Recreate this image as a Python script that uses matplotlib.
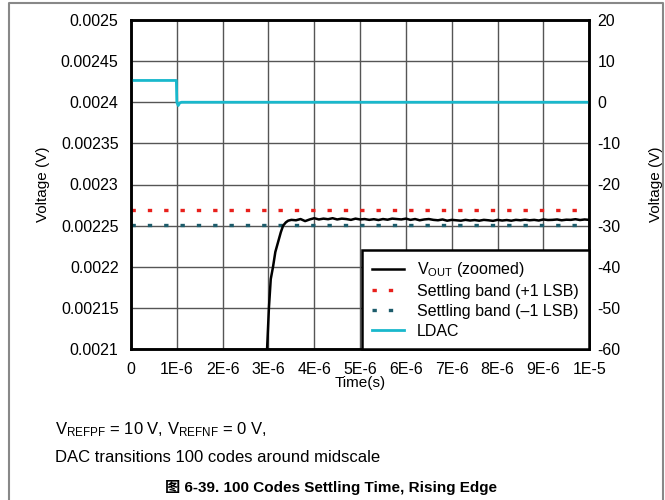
import numpy as np
import matplotlib
matplotlib.use('Agg')
import matplotlib.pyplot as plt
from matplotlib.lines import Line2D

plt.rcParams['font.family'] = ['Liberation Sans', 'Noto Sans CJK SC']
plt.rcParams['mathtext.fontset'] = 'custom'
plt.rcParams['mathtext.rm'] = 'Liberation Sans'
plt.rcParams['mathtext.it'] = 'Liberation Sans'
plt.rcParams['axes.unicode_minus'] = False

# VOUT (zoomed), time in microseconds
t_rise = [2.97, 3.01, 3.05, 3.10, 3.15, 3.21, 3.27, 3.32, 3.38, 3.43, 3.50]
v_rise = [0.00210, 0.00215, 0.002185, 0.00220, 0.002218, 0.00223, 0.002242, 0.00225, 0.002254, 0.002256, 0.002257]
t_flat = [3.6, 3.7, 3.8, 3.9, 4.0, 4.1, 4.2, 4.3, 4.4, 4.5, 4.6, 4.7, 4.8, 4.9,
          5.0, 5.1, 5.2, 5.3, 5.4, 5.5, 5.6, 5.7, 5.8, 5.9, 6.0, 6.1, 6.2, 6.3,
          6.4, 6.5, 6.6, 6.7, 6.8, 6.9, 7.0, 7.1, 7.2, 7.3, 7.4, 7.5, 7.6, 7.7,
          7.8, 7.9, 8.0, 8.1, 8.2, 8.3, 8.4, 8.5, 8.6, 8.7, 8.8, 8.9, 9.0, 9.1,
          9.2, 9.3, 9.4, 9.5, 9.6, 9.7, 9.8, 9.9, 10.0]
v_flat = [0.0022565, 0.002258, 0.0022555, 0.0022575, 0.002259, 0.0022575, 0.0022585, 0.0022578, 0.002259, 0.0022575,
          0.0022585, 0.002258, 0.002257, 0.0022585, 0.0022575, 0.002258, 0.002257, 0.0022578, 0.0022568, 0.002258,
          0.0022572, 0.0022585, 0.002258, 0.0022575, 0.0022585, 0.002257, 0.002258, 0.0022565, 0.0022575, 0.002258,
          0.002257, 0.0022565, 0.0022575, 0.002256, 0.002257, 0.0022565, 0.002256, 0.002257, 0.0022562, 0.0022568,
          0.002256, 0.002257, 0.0022565, 0.0022558, 0.002257, 0.0022562, 0.0022568, 0.002256, 0.002257, 0.0022565,
          0.0022572, 0.0022565, 0.002257, 0.0022562, 0.0022575, 0.0022568, 0.002257, 0.0022575, 0.0022565, 0.0022572,
          0.002257, 0.0022578, 0.0022568, 0.0022575, 0.002257]
band_hi = 0.002269
band_lo = 0.002251

# LDAC (right axis)
t_ldac = [0.0, 0.99, 1.0, 1.03, 1.06, 1.1, 10.0]
v_ldac = [5.3, 5.3, 0.0, -0.8, -0.2, 0.0, 0.0]

xticks = [0, 1, 2, 3, 4, 5, 6, 7, 8, 9, 10]
xlabels = ['0', '1E-6', '2E-6', '3E-6', '4E-6', '5E-6', '6E-6', '7E-6', '8E-6', '9E-6', '1E-5']
yticks = [0.0021, 0.00215, 0.0022, 0.00225, 0.0023, 0.00235, 0.0024, 0.00245, 0.0025]
ylabels = ['0.0021', '0.00215', '0.0022', '0.00225', '0.0023', '0.00235', '0.0024', '0.00245', '0.0025']
y2ticks = [-60, -50, -40, -30, -20, -10, 0, 10, 20]

fig = plt.figure(figsize=(6.65, 5), dpi=100)
ax = fig.add_axes([0.197, 0.302, 0.689, 0.658])
ax2 = ax.twinx()

t_vout = t_rise + t_flat
v_vout = v_rise + v_flat
ax.plot(t_vout, v_vout, color='black', lw=1.8, label=r'V$_{\mathrm{OUT}}$ (zoomed)', zorder=3)
ax.plot([0, 10], [band_hi, band_hi], color='#e8201c', lw=2.4, ls=(0, (1.3, 3.6)),
        label='Settling band (+1 LSB)', zorder=2)
ax.plot([0, 10], [band_lo, band_lo], color='#1d5c6b', lw=2.4, ls=(0, (1.3, 3.6)),
        label='Settling band (\u20131 LSB)', zorder=2)
ax2.plot(t_ldac, v_ldac, color='#19b8cc', lw=2.0, label='LDAC')

ax.set_xlim(0, 10)
ax.set_ylim(0.0021, 0.0025)
ax2.set_ylim(-60, 20)
ax.set_xticks(xticks)
ax.set_xticklabels(xlabels)
ax.set_yticks(yticks)
ax.set_yticklabels(ylabels)
ax2.set_yticks(y2ticks)
ax.tick_params(axis='x', length=0, labelsize=11.5, pad=9)
ax.tick_params(axis='y', length=0, labelsize=11.5, pad=9)
ax2.tick_params(length=0, labelsize=11.5, pad=6)
ax.grid(True, color='#555555', lw=1.0)
ax.set_axisbelow(True)
for a in (ax, ax2):
    for s in a.spines.values():
        s.set_linewidth(1.8)
        s.set_color('black')

ax.set_xlabel('Time(s)', fontsize=11, labelpad=0)
ax.set_ylabel('Voltage (V)', fontsize=11, labelpad=8)
ax2.set_ylabel('Voltage (V)', fontsize=11, labelpad=20)

h1, l1 = ax.get_legend_handles_labels()
h2, l2 = ax2.get_legend_handles_labels()
leg = ax2.legend(h1 + h2, l1 + l2, loc='lower right', borderaxespad=0, fontsize=11.5,
                 fancybox=False, framealpha=1, edgecolor='black', handlelength=2.0,
                 handletextpad=0.8, labelspacing=0.3, borderpad=0.65)
leg.get_frame().set_linewidth(1.8)

fig.text(0.083, 0.14, r'V$_{\mathrm{REFPF}}$ = 10 V, V$_{\mathrm{REFNF}}$ = 0 V,', fontsize=12, va='center')
fig.text(0.083, 0.085, 'DAC transitions 100 codes around midscale', fontsize=12, va='center')
fig.text(0.497, 0.025, '图 6-39. 100 Codes Settling Time, Rising Edge', fontsize=11,
         fontweight='bold', ha='center', va='center')

# outer frame (left, top, right)
fig.add_artist(Line2D([0.0135, 0.0135, 0.997, 0.997], [0.0, 0.994, 0.994, 0.0],
                      transform=fig.transFigure, color='#888888', lw=1.5))

fig.savefig('out.png', dpi=100)
